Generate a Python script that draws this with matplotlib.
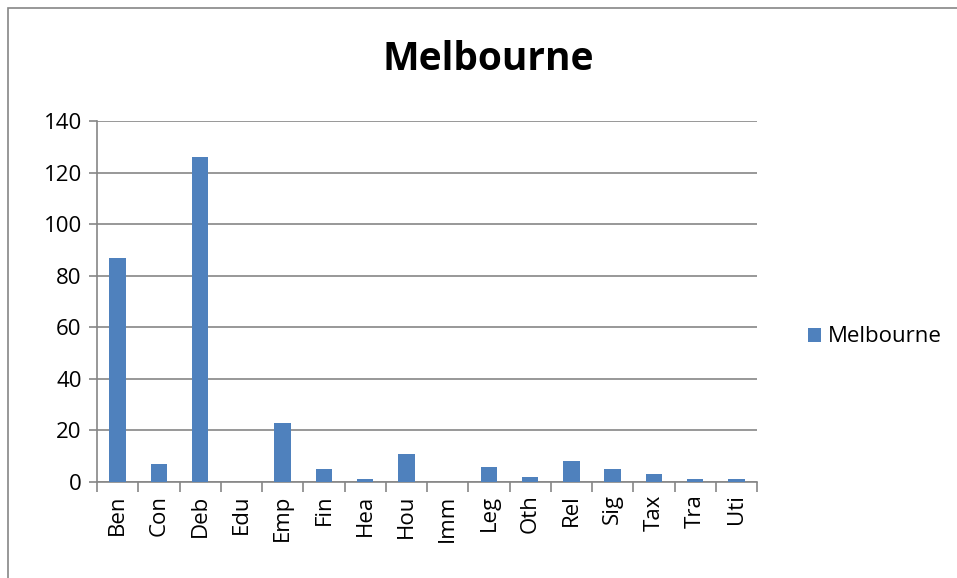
import numpy as np
import matplotlib.pyplot as plt
from matplotlib.patches import Rectangle

categories = ['Ben', 'Con', 'Deb', 'Edu', 'Emp', 'Fin', 'Hea', 'Hou',
              'Imm', 'Leg', 'Oth', 'Rel', 'Sig', 'Tax', 'Tra', 'Uti']
values = [87, 7, 126, 0, 23, 5, 1, 11, 0, 6, 2, 8, 5, 3, 1, 1]
series_name = 'Melbourne'
yticks = [0, 20, 40, 60, 80, 100, 120, 140]

plt.rcParams['font.family'] = ['Open Sans', 'DejaVu Sans']

fig = plt.figure(figsize=(9.57, 5.78), dpi=100)
fig.patches.append(Rectangle((8 / 957, -0.1), 1.1, 1.1 - 8 / 578, transform=fig.transFigure,
                             fill=False, edgecolor='#868686', linewidth=1.2))

ax = fig.add_axes([97 / 957, 96 / 578, 660 / 957, 361 / 578])
x = np.arange(len(categories))
ax.bar(x, values, width=0.4, color='#4F81BD', label=series_name, zorder=3)

ax.set_xlim(-0.5, len(categories) - 0.5)
ax.set_ylim(0, 140)
ax.set_yticks(yticks)
ax.yaxis.grid(True, color='#868686', linewidth=1.2, zorder=0)

ax.set_xticks(np.arange(len(categories) + 1) - 0.5)
ax.set_xticklabels([])
ax.set_xticks(x, minor=True)
ax.set_xticklabels(categories, minor=True, rotation=90, fontsize=16)
ax.tick_params(axis='x', which='minor', length=0, pad=9)
ax.tick_params(axis='x', which='major', length=7, color='#868686', width=1.2)
ax.tick_params(axis='y', length=6, color='#868686', width=1.2, labelsize=16, pad=5)

for side in ['top', 'right']:
    ax.spines[side].set_visible(False)
for side in ['left', 'bottom']:
    ax.spines[side].set_color('#868686')
    ax.spines[side].set_linewidth(1.2)

fig.text(488 / 957, 1 - 60 / 578, 'Melbourne', ha='center', va='center',
         fontsize=28, fontweight='bold')

fig.legend(loc='center left', bbox_to_anchor=(788 / 957, 1 - 337 / 578),
           frameon=False, fontsize=16, handlelength=0.6, handleheight=0.6,
           handletextpad=0.3)

fig.savefig('out.png', dpi=100)
